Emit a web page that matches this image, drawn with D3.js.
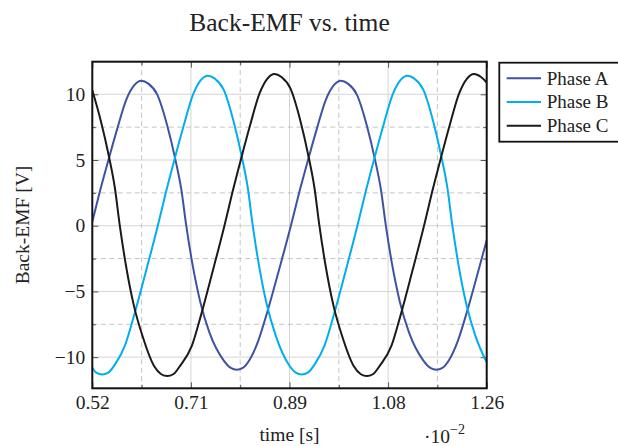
<!DOCTYPE html>
<html>
<head>
<meta charset="utf-8">
<script src="https://cdn.jsdelivr.net/npm/d3@7"></script>
<style>
  body { margin: 0; background: #fff; }
  text { font-family: "Liberation Serif", "DejaVu Serif", serif; fill: #222; }
</style>
</head>
<body>
<div id="vis"></div>
<script>
// svg size and plot box
var width = 618;
var height = 446;
var plot = {left: 92.3, right: 486.7, top: 61.7, bottom: 388.3};

// values (time in 10^-2 s, back-EMF in V)
var timeA = [0.52, 0.5331, 0.5500, 0.5669, 0.5838, 0.5988, 0.6119, 0.6251, 0.6419, 0.6607, 0.6757, 0.6870, 0.6963, 0.7076, 0.7226, 0.7395, 0.7664, 0.7798, 0.7911, 0.8024, 0.8155, 0.8314, 0.8483, 0.8708, 0.8926, 0.9076, 0.9245, 0.9414, 0.9583, 0.9733, 0.9864, 0.9996, 1.0164, 1.0352, 1.0502, 1.0615, 1.0708, 1.0821, 1.0971, 1.1140, 1.1409, 1.1543, 1.1656, 1.1769, 1.1900, 1.2059, 1.2228, 1.2453, 1.26];
var phaseA = [0.3, 2.43, 4.96, 7.39, 9.60, 10.70, 11.03, 10.81, 9.98, 7.61, 5.07, 2.76, 0, -2.85, -5.80, -8.10, -10.24, -10.82, -10.95, -10.82, -10.18, -8.76, -6.57, -3.29, 0, 2.43, 4.96, 7.39, 9.60, 10.70, 11.03, 10.81, 9.98, 7.61, 5.07, 2.76, 0, -2.85, -5.80, -8.10, -10.24, -10.82, -10.95, -10.82, -10.18, -8.76, -6.57, -3.29, -1.1];

var timeB = [0.52, 0.5273, 0.5386, 0.5499, 0.5630, 0.5817, 0.5986, 0.6211, 0.6429, 0.6579, 0.6748, 0.6917, 0.7086, 0.7236, 0.7367, 0.7499, 0.7667, 0.7855, 0.8005, 0.8118, 0.8211, 0.8324, 0.8474, 0.8643, 0.8887, 0.9018, 0.9131, 0.9244, 0.9375, 0.9562, 0.9731, 0.9956, 1.0174, 1.0324, 1.0493, 1.0662, 1.0831, 1.0981, 1.1112, 1.1244, 1.1412, 1.1600, 1.1750, 1.1863, 1.1956, 1.2069, 1.2219, 1.2388, 1.26];
var phaseB = [-10.8, -11.18, -11.32, -11.18, -10.53, -9.06, -6.79, -3.40, 0, 2.51, 5.14, 7.65, 9.94, 11.08, 11.42, 11.19, 10.34, 7.88, 5.25, 2.86, 0, -2.94, -6.00, -8.38, -10.58, -11.18, -11.32, -11.18, -10.53, -9.06, -6.79, -3.40, 0, 2.51, 5.14, 7.65, 9.94, 11.08, 11.42, 11.19, 10.34, 7.88, 5.25, 2.86, 0, -2.94, -6.00, -8.38, -10.4];

var timeC = [0.52, 0.5360, 0.5510, 0.5623, 0.5716, 0.5829, 0.5979, 0.6148, 0.6362, 0.6493, 0.6606, 0.6719, 0.6850, 0.7067, 0.7236, 0.7461, 0.7679, 0.7829, 0.7998, 0.8167, 0.8336, 0.8486, 0.8617, 0.8749, 0.8917, 0.9105, 0.9255, 0.9368, 0.9461, 0.9574, 0.9724, 0.9893, 1.0107, 1.0238, 1.0351, 1.0464, 1.0595, 1.0812, 1.0981, 1.1206, 1.1424, 1.1574, 1.1743, 1.1912, 1.2081, 1.2231, 1.2362, 1.2494, 1.26];
var phaseC = [10.3, 7.97, 5.31, 2.89, 0, -2.97, -6.06, -8.47, -10.70, -11.30, -11.44, -11.30, -10.64, -9.15, -6.86, -3.43, 0, 2.54, 5.20, 7.74, 10.05, 11.20, 11.55, 11.32, 10.45, 7.97, 5.31, 2.89, 0, -2.97, -6.06, -8.47, -10.70, -11.30, -11.44, -11.30, -10.64, -9.15, -6.86, -3.43, 0, 2.54, 5.20, 7.74, 10.05, 11.20, 11.55, 11.32, 10.9];

var seriesNames = ["Phase A", "Phase B", "Phase C"];
var seriesColors = ["#3d52a1", "#00aeef", "#1a1a1a"];

// ticks
var xTicks = [0.52, 0.705, 0.89, 1.075, 1.26];
var xTickLabels = ["0.52", "0.71", "0.89", "1.08", "1.26"];
var xMinor = [0.6125, 0.7975, 0.9825, 1.1675];
var yTicks = [-10, -5, 0, 5, 10];
var yTickLabels = ["\u221210", "\u22125", "0", "5", "10"];
var yMinor = [-7.5, -2.5, 2.5, 7.5];

var series = [
  {name: seriesNames[0], color: seriesColors[0], values: timeA.map(function(t, i){ return {t: t, v: phaseA[i]}; })},
  {name: seriesNames[1], color: seriesColors[1], values: timeB.map(function(t, i){ return {t: t, v: phaseB[i]}; })},
  {name: seriesNames[2], color: seriesColors[2], values: timeC.map(function(t, i){ return {t: t, v: phaseC[i]}; })}
];

var svg = d3.select("#vis").append("svg")
  .attr("width", width)
  .attr("height", height);

var x = d3.scaleLinear().domain([0.52, 1.26]).range([plot.left, plot.right]);
var y = d3.scaleLinear().domain([-12.37, 12.48]).range([plot.bottom, plot.top]);

// grid: major solid, minor dashed
var grid = svg.append("g");
grid.selectAll(".vmaj").data(xTicks).enter().append("line")
  .attr("x1", d => x(d)).attr("x2", d => x(d))
  .attr("y1", plot.top).attr("y2", plot.bottom)
  .attr("stroke", "#d4d4d4").attr("stroke-width", 1);
grid.selectAll(".hmaj").data(yTicks).enter().append("line")
  .attr("x1", plot.left).attr("x2", plot.right)
  .attr("y1", d => y(d)).attr("y2", d => y(d))
  .attr("stroke", "#d4d4d4").attr("stroke-width", 1);
grid.selectAll(".vmin").data(xMinor).enter().append("line")
  .attr("x1", d => x(d)).attr("x2", d => x(d))
  .attr("y1", plot.top).attr("y2", plot.bottom)
  .attr("stroke", "#c4c4c4").attr("stroke-width", 1)
  .attr("stroke-dasharray", "5,3.5");
grid.selectAll(".hmin").data(yMinor).enter().append("line")
  .attr("x1", plot.left).attr("x2", plot.right)
  .attr("y1", d => y(d)).attr("y2", d => y(d))
  .attr("stroke", "#c4c4c4").attr("stroke-width", 1)
  .attr("stroke-dasharray", "5,3.5");

// tick marks on all four sides, pointing inwards
function tickMarks(axis, values, size, transform) {
  var g = svg.append("g")
    .attr("transform", transform)
    .call(axis.tickValues(values).tickSize(-size).tickFormat(""));
  g.select(".domain").remove();
  g.selectAll(".tick line").attr("stroke", "#555").attr("stroke-width", 1);
}
tickMarks(d3.axisBottom(x), xTicks, 6, "translate(0," + plot.bottom + ")");
tickMarks(d3.axisBottom(x), xMinor, 3.5, "translate(0," + plot.bottom + ")");
tickMarks(d3.axisTop(x), xTicks, 6, "translate(0," + plot.top + ")");
tickMarks(d3.axisTop(x), xMinor, 3.5, "translate(0," + plot.top + ")");
tickMarks(d3.axisLeft(y), yTicks, 6, "translate(" + plot.left + ",0)");
tickMarks(d3.axisLeft(y), yMinor, 3.5, "translate(" + plot.left + ",0)");
tickMarks(d3.axisRight(y), yTicks, 6, "translate(" + plot.right + ",0)");
tickMarks(d3.axisRight(y), yMinor, 3.5, "translate(" + plot.right + ",0)");

// curves
svg.append("clipPath").attr("id", "clip")
  .append("rect")
  .attr("x", plot.left).attr("y", plot.top)
  .attr("width", plot.right - plot.left).attr("height", plot.bottom - plot.top);

var line = d3.line()
  .x(d => x(d.t))
  .y(d => y(d.v))
  .curve(d3.curveMonotoneX);

svg.append("g").attr("clip-path", "url(#clip)")
  .selectAll("path").data(series).enter().append("path")
  .attr("d", d => line(d.values))
  .attr("fill", "none")
  .attr("stroke", d => d.color)
  .attr("stroke-width", 2);

// frame
svg.append("rect")
  .attr("x", plot.left).attr("y", plot.top)
  .attr("width", plot.right - plot.left).attr("height", plot.bottom - plot.top)
  .attr("fill", "none").attr("stroke", "#111").attr("stroke-width", 2);

// tick labels
var xAxis = svg.append("g")
  .attr("transform", "translate(0," + plot.bottom + ")")
  .call(d3.axisBottom(x).tickValues(xTicks).tickSize(0).tickPadding(7)
    .tickFormat(function(d, i){ return xTickLabels[i]; }));
xAxis.select(".domain").remove();
xAxis.attr("font-family", null).attr("font-size", null);
xAxis.selectAll("text").style("font-size", "19.5px").attr("fill", "#222");

var yAxis = svg.append("g")
  .attr("transform", "translate(" + plot.left + ",0)")
  .call(d3.axisLeft(y).tickValues(yTicks).tickSize(0).tickPadding(7)
    .tickFormat(function(d, i){ return yTickLabels[i]; }));
yAxis.select(".domain").remove();
yAxis.attr("font-family", null).attr("font-size", null);
yAxis.selectAll("text").style("font-size", "19.5px").attr("fill", "#222");

// title and axis labels
svg.append("text")
  .attr("x", (plot.left + plot.right) / 2).attr("y", 31)
  .attr("text-anchor", "middle")
  .style("font-size", "25.5px")
  .text("Back-EMF vs. time");

svg.append("text")
  .attr("x", (plot.left + plot.right) / 2).attr("y", 440.5)
  .attr("text-anchor", "middle")
  .style("font-size", "19.5px")
  .text("time [s]");

var scaleLabel = svg.append("text")
  .attr("x", 424).attr("y", 442.5)
  .style("font-size", "19.5px");
scaleLabel.append("tspan").text("\u00b710");
scaleLabel.append("tspan").attr("dy", -9).style("font-size", "14px").text("\u22122");

svg.append("text")
  .attr("transform", "translate(28.5," + ((plot.top + plot.bottom) / 2) + ") rotate(-90)")
  .attr("text-anchor", "middle")
  .style("font-size", "19.5px")
  .text("Back-EMF [V]");

// legend
var legend = svg.append("g").attr("transform", "translate(499.3,62.7)");
legend.append("rect")
  .attr("width", 126).attr("height", 79)
  .attr("fill", "#fff").attr("stroke", "#111").attr("stroke-width", 1.8);

var entries = legend.selectAll(".entry").data(series).enter().append("g")
  .attr("transform", (d, i) => "translate(0," + (15.6 + i * 23.7) + ")");
entries.append("line")
  .attr("x1", 7.4).attr("x2", 41.7)
  .attr("stroke", d => d.color).attr("stroke-width", 2);
entries.append("text")
  .attr("x", 47.4).attr("y", 6.3)
  .style("font-size", "19px")
  .text(d => d.name);
</script>
</body>
</html>
